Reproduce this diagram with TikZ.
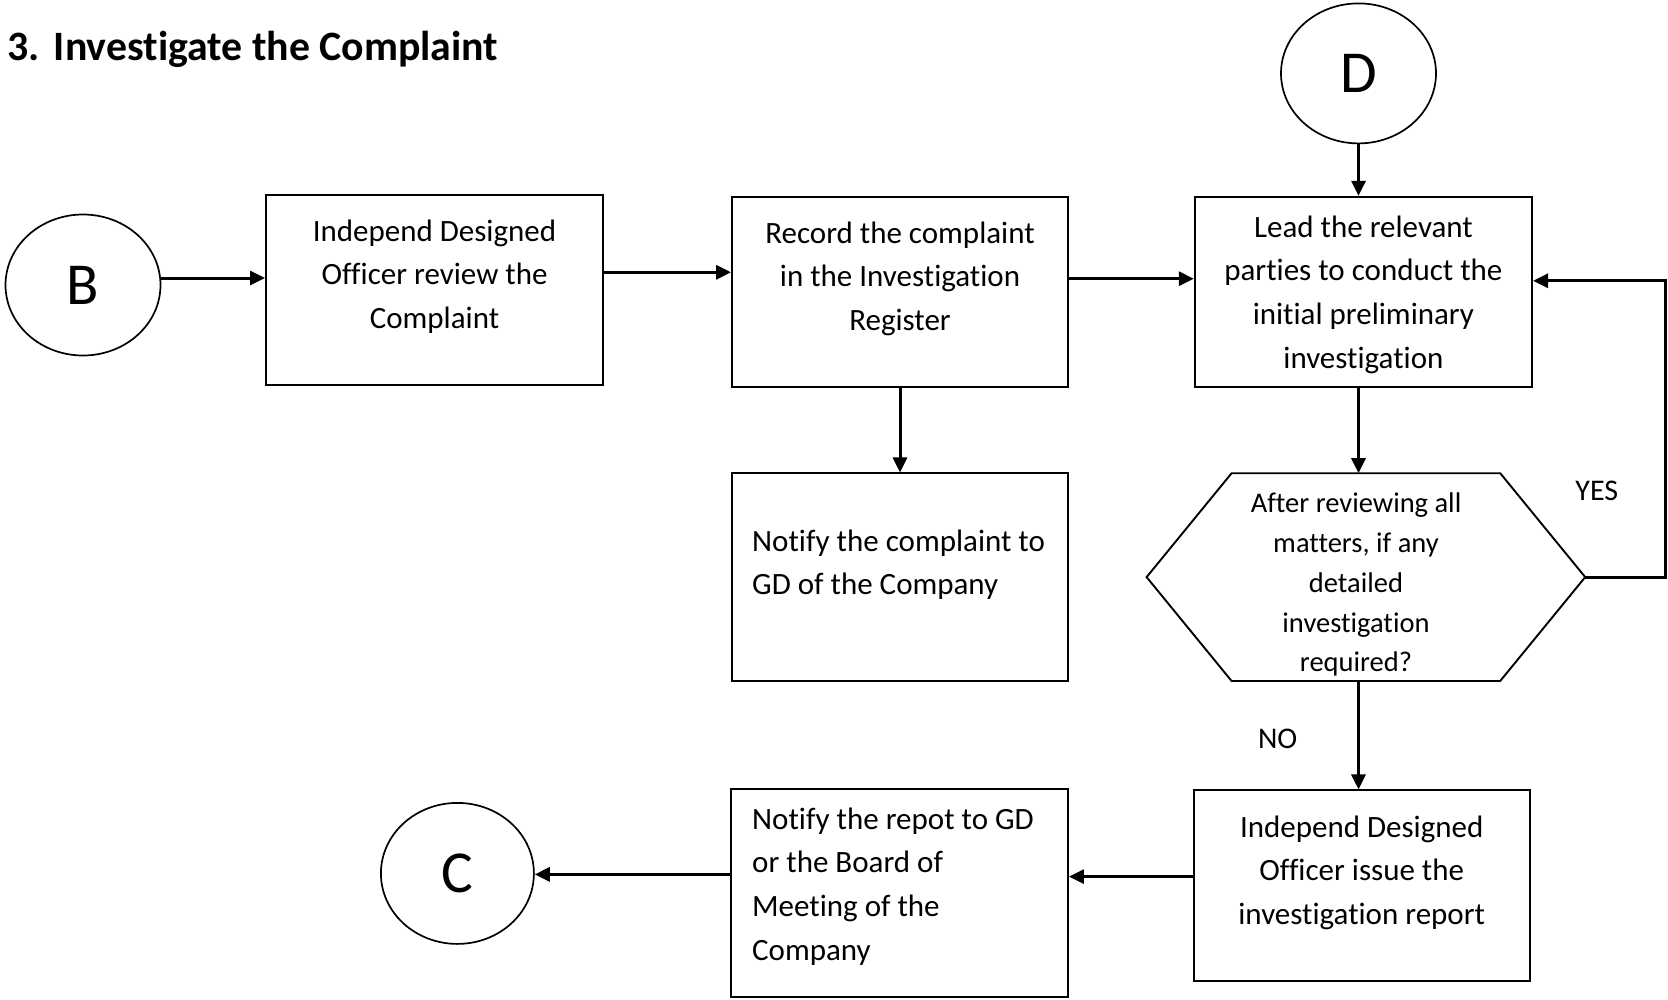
\documentclass[tikz,border=0pt]{standalone}
\usepackage{fontspec}
\setmainfont[Ligatures=NoCommon]{Carlito}
\usetikzlibrary{arrows.meta,calc,shapes.geometric}
\begin{document}
\begin{tikzpicture}[x=1pt,y=-1pt,
  box/.style={draw, line width=1.9pt, inner sep=0pt},
  circ/.style={draw, ellipse, line width=1.7pt, inner sep=0pt, minimum width=155pt, minimum height=141pt, font=\fontsize{59.5}{60}\selectfont},
  txt/.style={inner sep=0pt, align=center, font=\fontsize{31}{43.6}\selectfont},
  ltxt/.style={inner sep=0pt, align=left, anchor=west, font=\fontsize{31}{43.6}\selectfont},
  htxt/.style={inner sep=0pt, align=center, font=\fontsize{28.5}{39.9}\selectfont},
  lab/.style={inner sep=0pt, font=\fontsize{30}{32}\selectfont},
  arr/.style={line width=3pt, -{Triangle[length=15pt,width=14pt]}}]
\useasboundingbox (0,0) rectangle (1668,999);

% title
\node[inner sep=0pt, anchor=base west, font=\fontsize{41.8}{44}\selectfont\bfseries] (title) at (7.4,60) {3.\hspace{14pt}Investigate the Complaint};

% connectors (circles)
\node[circ] (B) at (83,285) {B};
\node[circ, minimum height=140pt] (D) at (1358.5,73.4) {D};
\node[circ, minimum width=153pt] (C) at (457.4,873.4) {C};

% boxes
\node[box, minimum width=337pt, minimum height=190.3pt] (b1) at (434.5,289.9) {};
\node[box, minimum width=336pt, minimum height=190.4pt] (b2) at (900,292) {};
\node[box, minimum width=337.3pt, minimum height=190.4pt] (b3) at (1363.4,292) {};
\node[box, minimum width=336pt, minimum height=207.4pt] (b4) at (900,577.1) {};
\node[inner sep=0pt, minimum width=438.2pt, minimum height=207.4pt] (hex) at (1365.9,577.1) {};
\node[box, minimum width=336.2pt, minimum height=190.4pt] (b5) at (1361.7,885.6) {};
\node[box, minimum width=337.2pt, minimum height=207.5pt] (b6) at (899.4,893) {};

% hexagon outline
\draw[line width=1.9pt, line join=miter]
  (hex.west) -- ([xshift=85pt]hex.north west) -- ([xshift=-85pt]hex.north east)
  -- (hex.east) -- ([xshift=-85pt]hex.south east) -- ([xshift=85pt]hex.south west) -- cycle;

% texts
\node[txt] (b1t) at (434.5,276.5) {Independ Designed\\Officer review the\\Complaint};
\node[txt] (b2t) at (900,278.6) {Record the complaint\\in the Investigation\\Register};
\node[txt] (b3t) at (1363.4,294.6) {Lead the relevant\\parties to conduct the\\initial preliminary\\investigation};
\node[ltxt] (b4t) at (752,564.8) {Notify the complaint to\\GD of the Company};
\node[htxt] (hext) at (1356,584.5) {After reviewing all\\matters, if any\\detailed\\investigation\\required?};
\node[txt] (b5t) at (1361.7,872.7) {Independ Designed\\Officer issue the\\investigation report};
\node[ltxt] (b6t) at (752,886.5) {Notify the repot to GD\\or the Board of\\Meeting of the\\Company};

% labels
\node[lab] (yes) at (1596.8,490.4) {YES};
\node[lab] (no) at (1277.6,739.3) {NO};

% arrows
\draw[arr] ([yshift=7pt]B.east) -- ([yshift=7pt]B.east -| b1.west);
\draw[arr] ([yshift=17.6pt]b1.east) -- ([yshift=17.6pt]b1.east -| b2.west);
\draw[arr] ([yshift=13.3pt]b2.east) -- ([yshift=13.3pt]b2.east -| b3.west);
\draw[arr] (D.south) -- (D.south |- b3.north);
\draw[arr] (b2.south) -- (b4.north);
\draw[arr] (D.south |- b3.south) -- (D.south |- hex.north);
\coordinate (loop) at (1665.5,280.8);
\draw[arr] (hex.east) -| (loop) -- (loop -| b3.east);
\draw[arr] (D.south |- hex.south) -- (D.south |- b5.north);
\draw[arr] ([yshift=9pt]b5.west) -- ([yshift=9pt]b5.west -| b6.east);
\draw[arr] ([yshift=18.6pt]b6.west) -- ([yshift=18.6pt]b6.west -| C.east);
\end{tikzpicture}
\end{document}
